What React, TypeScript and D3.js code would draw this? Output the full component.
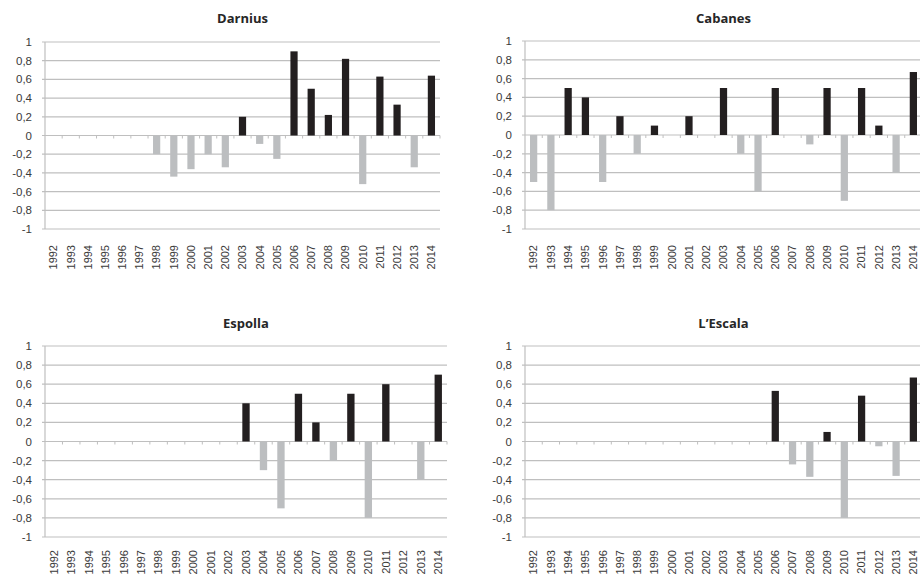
import React from "react";
import * as d3 from "d3";

const years = ["1992","1993","1994","1995","1996","1997","1998","1999","2000","2001","2002","2003","2004","2005","2006","2007","2008","2009","2010","2011","2012","2013","2014"];
const yTicks = [1, 0.8, 0.6, 0.4, 0.2, 0, -0.2, -0.4, -0.6, -0.8, -1];
const titles = ["Darnius", "Cabanes", "Espolla", "L\u2019Escala"];

const darnius = [null,null,null,null,null,null,-0.2,-0.44,-0.36,-0.2,-0.34,0.2,-0.09,-0.25,0.9,0.5,0.22,0.82,-0.52,0.63,0.33,-0.34,0.64];
const cabanes = [-0.5,-0.8,0.5,0.4,-0.5,0.2,-0.2,0.1,null,0.2,null,0.5,-0.2,-0.6,0.5,null,-0.1,0.5,-0.7,0.5,0.1,-0.4,0.67];
const espolla = [null,null,null,null,null,null,null,null,null,null,null,0.4,-0.3,-0.7,0.5,0.2,-0.2,0.5,-0.8,0.6,null,-0.4,0.7];
const lescala = [null,null,null,null,null,null,null,null,null,null,null,null,null,null,0.53,-0.24,-0.37,0.1,-0.8,0.48,-0.05,-0.36,0.67];

const seriesList = [darnius, cabanes, espolla, lescala];

// panel geometry
const panels = [
  { x0: 45, x1: 440, yTop: 42, yBot: 229, titleY: 23, labOff: 16 },
  { x0: 525, x1: 922, yTop: 41, yBot: 229, titleY: 23, labOff: 16 },
  { x0: 45, x1: 447, yTop: 346, yBot: 537, titleY: 328, labOff: 13 },
  { x0: 525, x1: 922, yTop: 346, yBot: 537, titleY: 328, labOff: 13 },
];

const GRID = "#bfbfbf";
const POS = "#231f20";
const NEG = "#bcbec0";

const fmt = (v: number) => {
  const s = Math.abs(v) < 1e-9 ? "0" : d3.format("")(Math.round(v * 10) / 10);
  return s.replace("\u2212", "-").replace(".", ",");
};

function Panel({ idx }: { idx: number }) {
  const p = panels[idx];
  const data = seriesList[idx];
  const x = d3.scaleBand<string>().domain(years).range([p.x0, p.x1]).padding(0);
  const y = d3.scaleLinear().domain([-1, 1]).range([p.yBot, p.yTop]);
  const bw = x.bandwidth() * 0.42;
  const y0 = y(0);
  return (
    <g>
      <text
        x={(p.x0 + p.x1) / 2}
        y={p.titleY}
        textAnchor="middle"
        fontFamily="'Open Sans', sans-serif"
        fontWeight="bold"
        fontSize={13}
        fill="#262626"
      >
        {titles[idx]}
      </text>
      {yTicks.map((t) => (
        <g key={t}>
          <line x1={p.x0 - 3} x2={p.x1} y1={y(t)} y2={y(t)} stroke={GRID} strokeWidth={1.2} />
          <text
            x={p.x0 - 13}
            y={y(t)}
            dy="0.35em"
            textAnchor="end"
            fontFamily="'Liberation Sans', Arial, sans-serif"
            fontSize={11.5}
            fill="#3a3a3a"
          >
            {fmt(t)}
          </text>
        </g>
      ))}
      <line x1={p.x0} x2={p.x0} y1={p.yTop} y2={p.yBot} stroke={GRID} strokeWidth={1.2} />
      {years.map((yr) => (
        <line
          key={"t" + yr}
          x1={(x(yr) as number) + x.bandwidth()}
          x2={(x(yr) as number) + x.bandwidth()}
          y1={y0}
          y2={y0 + 3}
          stroke={GRID}
          strokeWidth={1}
        />
      ))}
      {years.map((yr, i) => {
        const v = data[i];
        if (v === null || v === undefined) return null;
        const cx = (x(yr) as number) + x.bandwidth() / 2;
        const top = Math.min(y(v), y0);
        const h = Math.abs(y(v) - y0);
        return <rect key={"b" + yr} x={cx - bw / 2} y={top} width={bw} height={h} fill={v >= 0 ? POS : NEG} />;
      })}
      {years.map((yr) => {
        const cx = (x(yr) as number) + x.bandwidth() / 2;
        const ty = p.yBot + p.labOff;
        return (
          <text
            key={"l" + yr}
            transform={`translate(${cx},${ty}) rotate(-90)`}
            textAnchor="end"
            dy="0.35em"
            fontFamily="'Liberation Sans', Arial, sans-serif"
            fontSize={11}
            fill="#3a3a3a"
          >
            {yr}
          </text>
        );
      })}
    </g>
  );
}

export default function App() {
  return (
    <svg
      width={920}
      height={577}
      style={{ position: "absolute", left: 0, top: 0, background: "#fff" }}
    >
      <rect x={0} y={0} width={920} height={577} fill="#fff" />
      {panels.map((_, i) => (
        <Panel key={i} idx={i} />
      ))}
    </svg>
  );
}
